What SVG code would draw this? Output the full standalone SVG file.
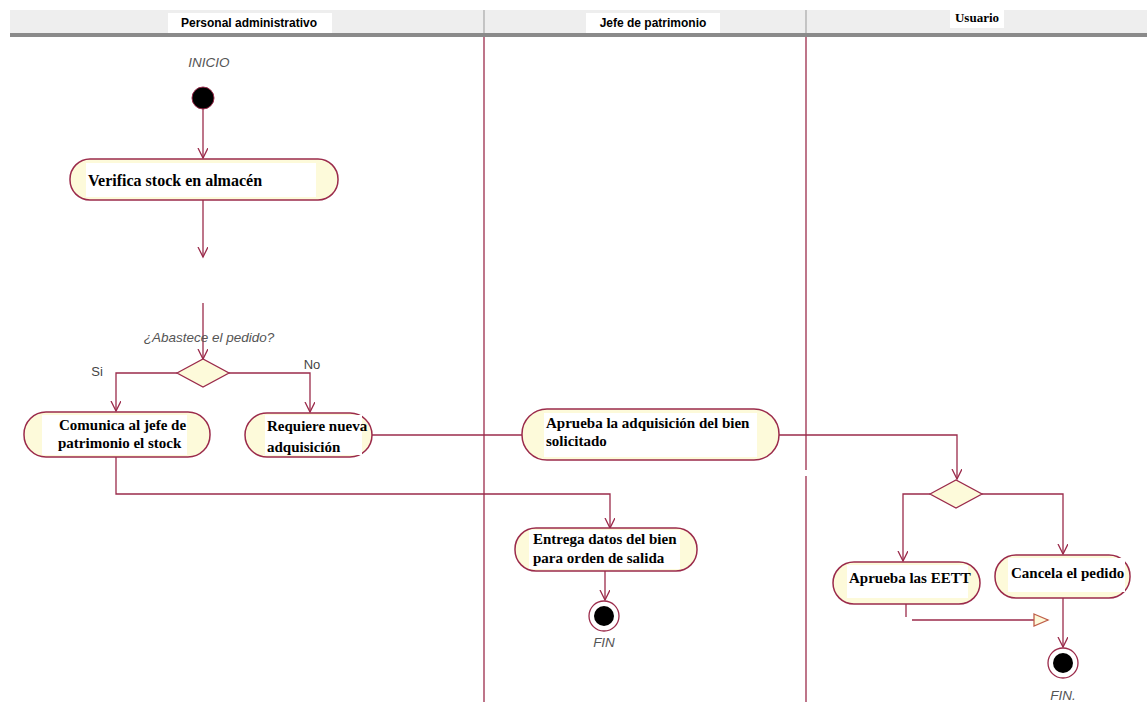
<svg xmlns="http://www.w3.org/2000/svg" width="1147" height="706" viewBox="0 0 1147 706">
<style>
.lane{stroke:#9B2B4B;stroke-width:1.3;fill:none}
.hdr{font-family:"Liberation Sans",Arial,sans-serif;font-weight:bold;font-size:12px;fill:#000}
.act{fill:#FDFADA;stroke:#9B2B4B;stroke-width:1.5}
.txt{font-family:"Liberation Serif","Times New Roman",serif;font-weight:bold;font-size:15px;fill:#000}
.big{font-size:16px}
.lbl{font-family:"Liberation Sans",Arial,sans-serif;font-style:italic;font-size:13.5px;fill:#555}
.g{font-family:"Liberation Sans",Arial,sans-serif;font-size:13px;fill:#444}
.con{stroke:#9B2B4B;stroke-width:1.3;fill:none}
.wb{fill:#fff}
</style>
<defs>
<marker id="arr" markerWidth="12" markerHeight="12" refX="10" refY="5" orient="auto" markerUnits="userSpaceOnUse">
<path d="M0,0 L10,5 L0,10" fill="none" stroke="#9B2B4B" stroke-width="1.3"/>
</marker>
<marker id="tri" markerWidth="18" markerHeight="14" refX="15" refY="7" orient="auto" markerUnits="userSpaceOnUse">
<path d="M1,1 L15,7 L1,13 Z" fill="#FDFADA" stroke="#C0604A" stroke-width="1.3"/>
</marker>
</defs>
<rect width="1147" height="706" fill="#fff"/>
<g id="header">
<rect x="10" y="10" width="1137" height="24" fill="#EEEEEE"/>
<rect x="10" y="33" width="1137" height="4" fill="#8A8A8A"/>
<line x1="484" y1="10" x2="484" y2="33" stroke="#999" stroke-width="1"/>
<line x1="806" y1="10" x2="806" y2="33" stroke="#999" stroke-width="1"/>
<rect class="wb" x="168" y="13" width="164" height="20"/>
<text class="hdr" x="249" y="27" text-anchor="middle">Personal administrativo</text>
<rect class="wb" x="586" y="13" width="134" height="20"/>
<text class="hdr" x="653" y="27" text-anchor="middle">Jefe de patrimonio</text>
<rect class="wb" x="950" y="10" width="54" height="18"/>
<text x="977" y="22" text-anchor="middle" font-family="Liberation Serif, serif" font-weight="bold" font-size="13">Usuario</text>
</g>
<g id="lanes">
<line class="lane" x1="484" y1="37" x2="484" y2="702"/>
<line class="lane" x1="806" y1="37" x2="806" y2="470"/>
<line class="lane" x1="806" y1="476" x2="806" y2="702"/>
</g>
<g id="connectors">
<line class="con" x1="203" y1="109" x2="203" y2="158" marker-end="url(#arr)"/>
<line class="con" x1="203" y1="200" x2="203" y2="257" marker-end="url(#arr)"/>
<line class="con" x1="203" y1="303" x2="203" y2="359" marker-end="url(#arr)"/>
<polyline class="con" points="177,373 116,373 116,411" marker-end="url(#arr)"/>
<polyline class="con" points="229,373 310,373 310,412" marker-end="url(#arr)"/>
<line class="con" x1="372" y1="435" x2="535" y2="435" marker-end="url(#arr)"/>
<polyline class="con" points="116,457 116,494 610,494 610,528" marker-end="url(#arr)"/>
<line class="con" x1="605" y1="571" x2="605" y2="600" marker-end="url(#arr)"/>
<polyline class="con" points="779,435 957,435 957,479" marker-end="url(#arr)"/>
<polyline class="con" points="930,494 903,494 903,561" marker-end="url(#arr)"/>
<polyline class="con" points="982,494 1063,494 1063,554" marker-end="url(#arr)"/>
<line class="con" x1="906" y1="604" x2="906" y2="617"/>
<line class="con" x1="912" y1="620" x2="1048" y2="620" marker-end="url(#tri)"/>
<line class="con" x1="1063" y1="598" x2="1063" y2="647" marker-end="url(#arr)"/>
</g>
<g id="inicio">
<text class="lbl" x="209" y="67" text-anchor="middle">INICIO</text>
<circle cx="203" cy="98" r="11" fill="#000" stroke="#9B2B4B" stroke-width="1"/>
</g>
<g id="verifica">
<rect class="act" x="70" y="159" width="268" height="41" rx="20" ry="20"/>
<rect class="wb" x="86" y="163" width="230" height="34"/>
<text class="txt big" x="88" y="186">Verifica stock en almacén</text>
</g>
<g id="decision1">
<text class="lbl" x="209" y="342" text-anchor="middle">¿Abastece el pedido?</text>
<polygon points="177,373 203,359 229,373 203,387" fill="#FDFADA" stroke="#9B2B4B" stroke-width="1.3"/>
<text class="g" x="97" y="376" text-anchor="middle">Si</text>
<text class="g" x="312" y="369" text-anchor="middle">No</text>
</g>
<g id="comunica">
<rect class="act" x="24" y="412" width="186" height="45" rx="22" ry="22"/>
<rect class="wb" x="42" y="415" width="145" height="40"/>
<text class="txt" x="59" y="430">Comunica al jefe de</text>
<text class="txt" x="58" y="448">patrimonio el stock</text>
</g>
<g id="requiere">
<rect class="act" x="245" y="413" width="127" height="44" rx="22" ry="22"/>
<rect class="wb" x="265" y="415" width="97" height="40"/>
<text class="txt" x="267" y="431">Requiere nueva</text>
<text class="txt" x="267" y="452">adquisición</text>
</g>
<g id="aprueba-adq">
<rect class="act" x="522" y="409" width="257" height="51" rx="25" ry="25"/>
<rect class="wb" x="544" y="413" width="213" height="44"/>
<text class="txt" x="546" y="428">Aprueba la adquisición del bien</text>
<text class="txt" x="546" y="446">solicitado</text>
</g>
<g id="entrega">
<rect class="act" x="515" y="528" width="182" height="43" rx="21" ry="21"/>
<rect class="wb" x="529" y="530" width="151" height="39"/>
<text class="txt" x="533" y="544">Entrega datos del bien</text>
<text class="txt" x="533" y="563">para orden de salida</text>
</g>
<g id="fin1">
<circle cx="604" cy="616" r="15" fill="#fff" stroke="#9B2B4B" stroke-width="1.3"/>
<circle cx="604" cy="616" r="10" fill="#000"/>
<text class="lbl" x="604" y="647" text-anchor="middle">FIN</text>
</g>
<g id="decision2">
<polygon points="930,494 956,480 982,494 956,508" fill="#FDFADA" stroke="#9B2B4B" stroke-width="1.3"/>
</g>
<g id="aprueba-eett">
<rect class="act" x="833" y="562" width="147" height="42" rx="21" ry="21"/>
<rect class="wb" x="847" y="565" width="121" height="33"/>
<text class="txt" x="849" y="583">Aprueba las EETT</text>
</g>
<g id="cancela">
<rect class="act" x="995" y="555" width="135" height="43" rx="21" ry="21"/>
<rect class="wb" x="1008" y="558" width="117" height="34"/>
<text class="txt" x="1011" y="578">Cancela el pedido</text>
</g>
<g id="fin2">
<circle cx="1063" cy="663" r="15" fill="#fff" stroke="#9B2B4B" stroke-width="1.3"/>
<circle cx="1063" cy="663" r="10" fill="#000"/>
<text class="lbl" x="1063" y="700" text-anchor="middle">FIN.</text>
</g>
</svg>
